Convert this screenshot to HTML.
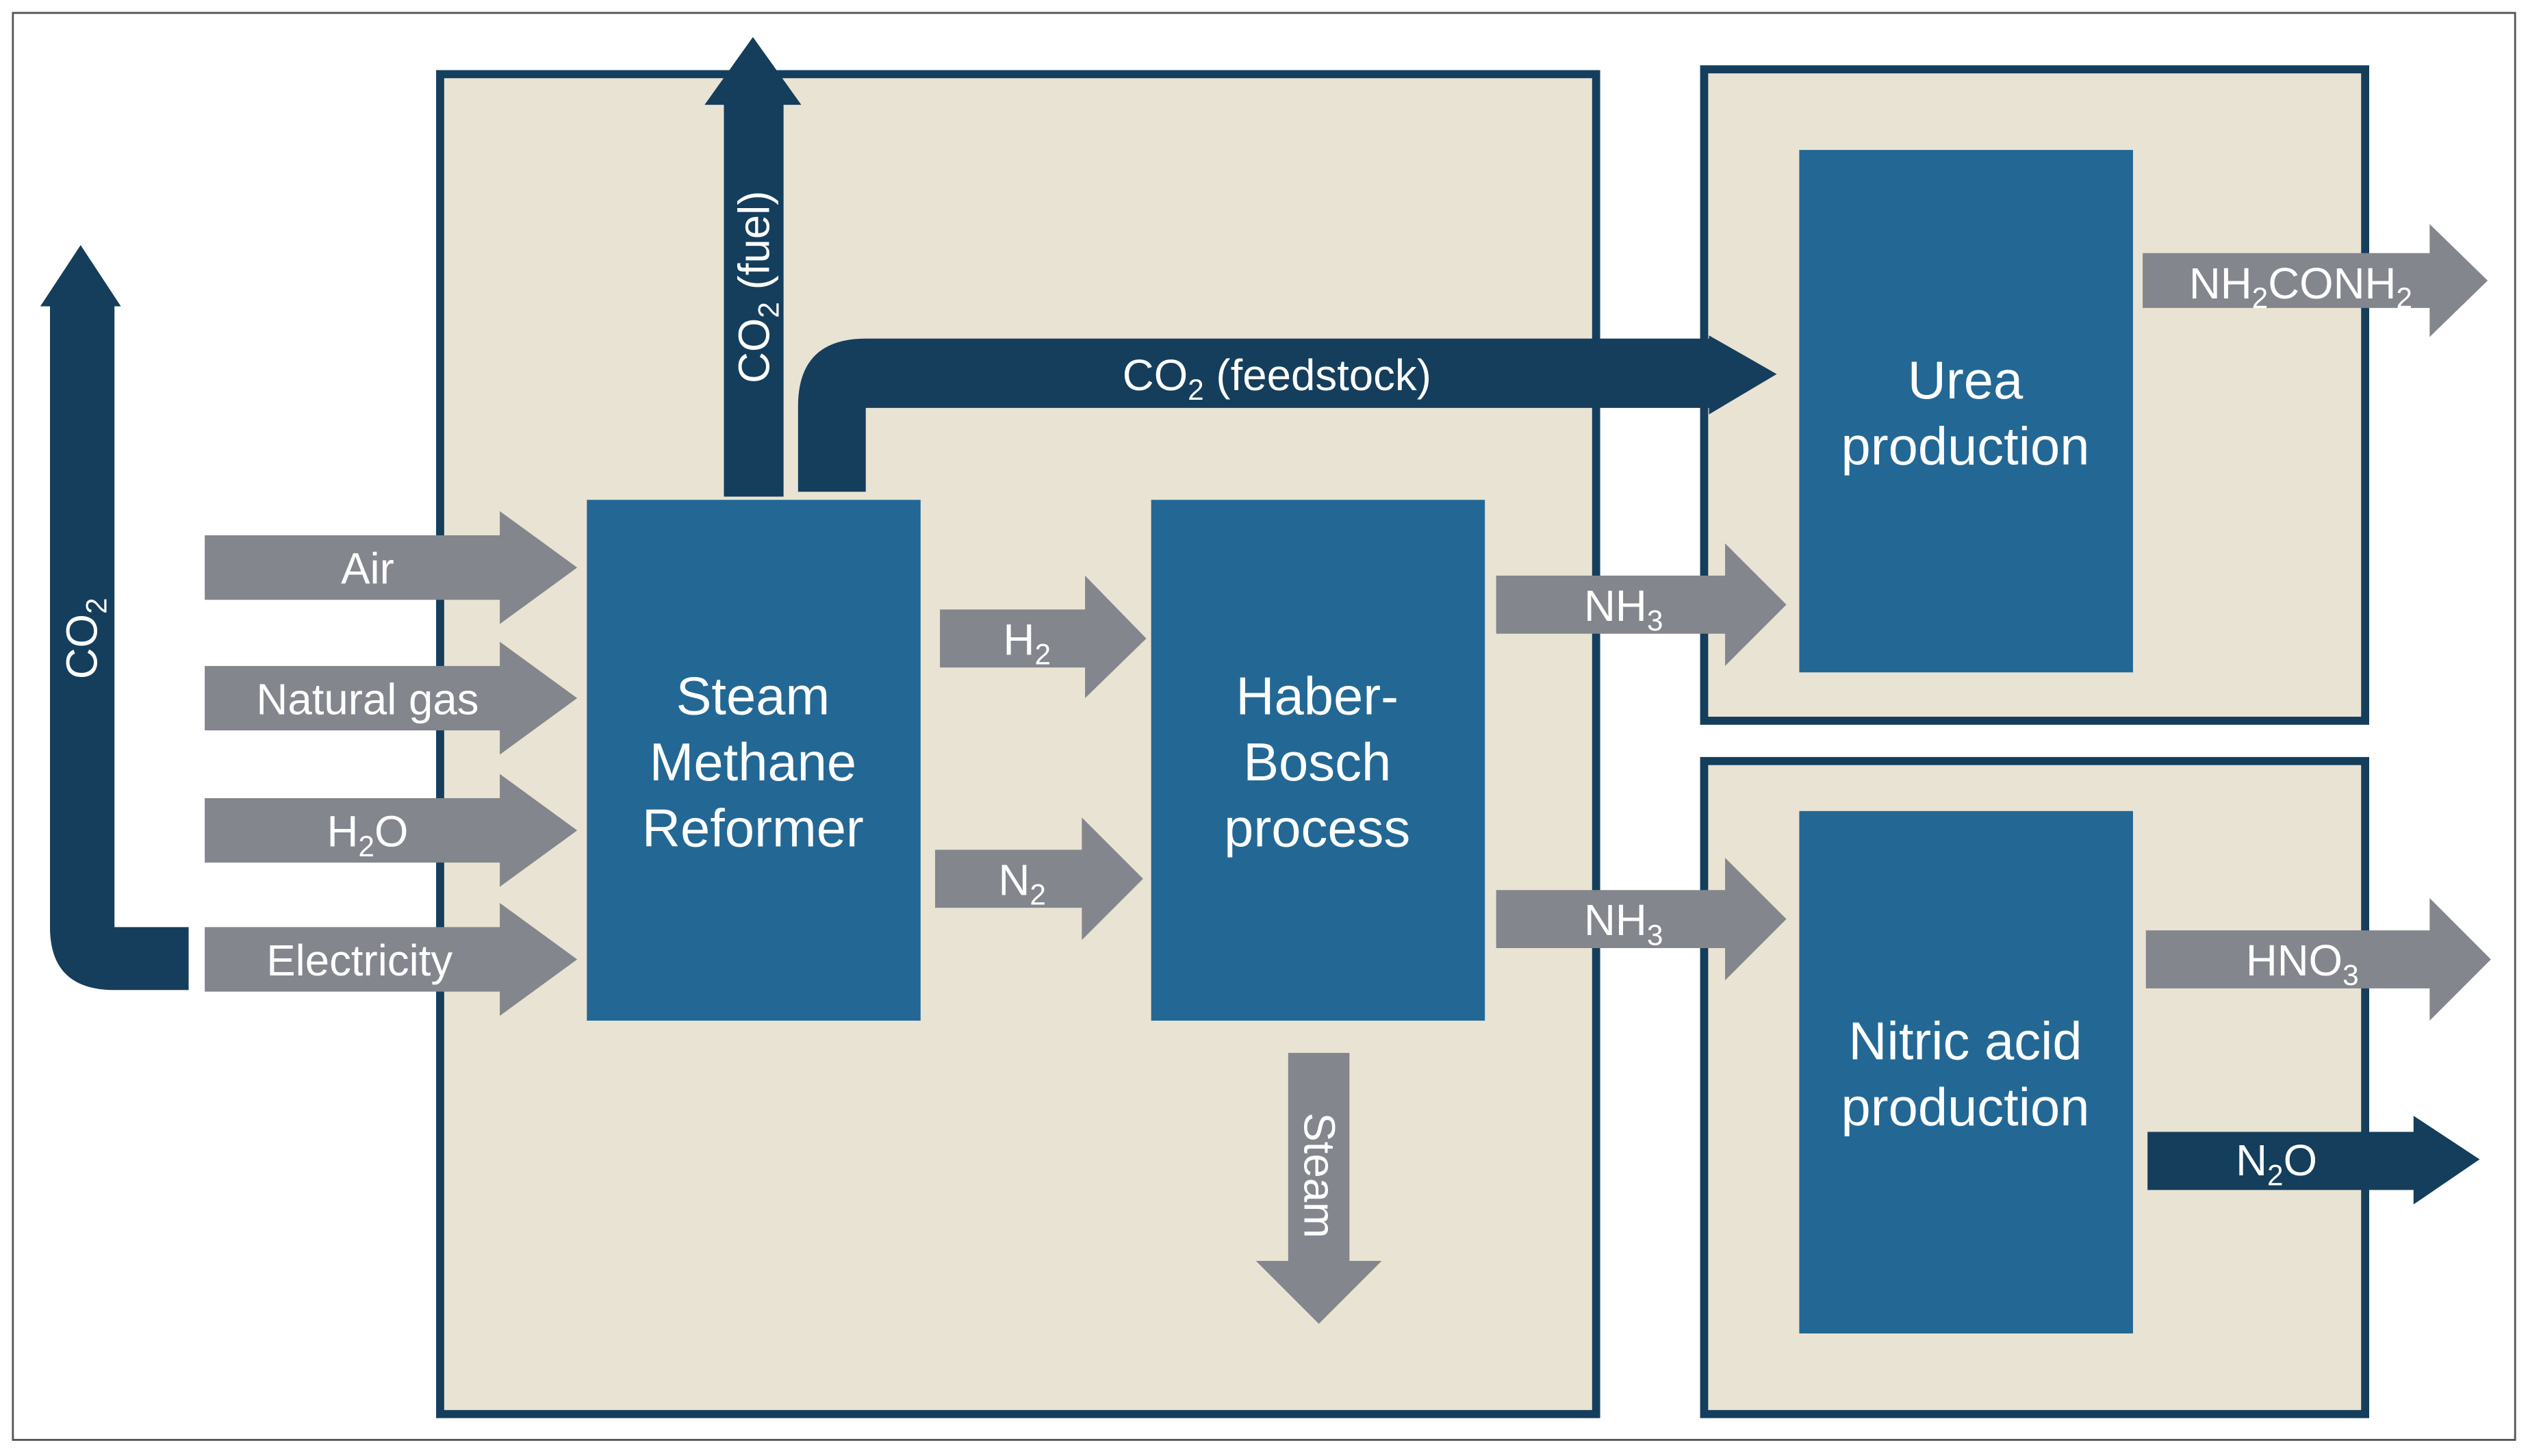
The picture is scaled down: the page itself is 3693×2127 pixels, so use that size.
<!DOCTYPE html>
<html><head><meta charset="utf-8"><style>
html,body{margin:0;padding:0;background:#fff;}
svg{display:block;}
text{font-family:"Liberation Sans",Arial,sans-serif;fill:#fff;}
</style></head><body>
<svg width="3693" height="2127" viewBox="0 0 1568 903" preserveAspectRatio="none" xmlns="http://www.w3.org/2000/svg">
<rect x="0" y="0" width="1568" height="903" fill="#fff"/>
<rect x="8" y="8" width="1552" height="885" fill="none" stroke="#555" stroke-width="1.2"/>
<rect x="273" y="46" width="717" height="831" fill="#e9e3d3" stroke="#143e5c" stroke-width="5"/>
<rect x="1057" y="43" width="410" height="404" fill="#e9e3d3" stroke="#143e5c" stroke-width="5"/>
<rect x="1057" y="472" width="410" height="405" fill="#e9e3d3" stroke="#143e5c" stroke-width="5"/>
<rect x="364" y="310" width="207" height="323" fill="#236894"/>
<rect x="714" y="310" width="207" height="323" fill="#236894"/>
<rect x="1116" y="93" width="207" height="324" fill="#236894"/>
<rect x="1116" y="503" width="207" height="324" fill="#236894"/>
<polygon points="449,308 486,308 486,65 497,65 467,23 437,65 449,65" fill="#143e5c"/>
<path d="M117,575 L117,614 L71,614 Q31,614 31,575 L31,190 L25,190 L50,152 L75,190 L71,190 L71,575 Z" fill="#143e5c"/>
<path d="M495,305 L537,305 L537,253 L1060,253 L1060,257 L1102,232 L1060,208 L1060,210 L537,210 Q495,210 495,252 Z" fill="#143e5c"/>
<polygon points="1332,702 1497,702 1497,692 1538,719 1497,747 1497,738 1332,738" fill="#143e5c"/>
<g fill="#83868c">
<polygon points="127,332 310,332 310,317 358,352 310,387 310,372 127,372"/>
<polygon points="127,413 310,413 310,398 358,433 310,468 310,453 127,453"/>
<polygon points="127,495 310,495 310,480 358,515 310,550 310,535 127,535"/>
<polygon points="127,575 310,575 310,560 358,595 310,630 310,615 127,615"/>
<polygon points="583,378 673,378 673,357 711,396 673,433 673,414 583,414"/>
<polygon points="580,527 671,527 671,507 709,545 671,583 671,563 580,563"/>
<polygon points="928,357 1070,357 1070,337 1108,375 1070,413 1070,393 928,393"/>
<polygon points="928,552 1070,552 1070,532 1108,570 1070,608 1070,588 928,588"/>
<polygon points="1329,157 1507,157 1507,139 1543,174 1507,209 1507,191 1329,191"/>
<polygon points="1331,577 1507,577 1507,557 1545,595 1507,633 1507,613 1331,613"/>
<polygon points="799,653 837,653 837,782 857,782 818,821 779,782 799,782"/>
</g>
<g font-size="27" text-anchor="middle">
<text x="228" y="362">Air</text>
<text x="228" y="443">Natural gas</text>
<text x="228" y="525">H<tspan font-size="18" dy="6">2</tspan><tspan dy="-6">O</tspan></text>
<text x="223" y="605">Electricity</text>
<text x="637" y="406">H<tspan font-size="18" dy="6">2</tspan></text>
<text x="634" y="555">N<tspan font-size="18" dy="6">2</tspan></text>
<text x="1007" y="385">NH<tspan font-size="18" dy="6">3</tspan></text>
<text x="1007" y="580">NH<tspan font-size="18" dy="6">3</tspan></text>
<text x="1427" y="185">NH<tspan font-size="18" dy="6">2</tspan><tspan dy="-6">CONH</tspan><tspan font-size="18" dy="6">2</tspan></text>
<text x="1428" y="605">HNO<tspan font-size="18" dy="6">3</tspan></text>
<text x="1412" y="729">N<tspan font-size="18" dy="6">2</tspan><tspan dy="-6">O</tspan></text>
<text x="792" y="242">CO<tspan font-size="18" dy="6">2</tspan><tspan dy="-6"> (feedstock)</tspan></text>
<text transform="translate(477,178) rotate(-90)">CO<tspan font-size="18" dy="6">2</tspan><tspan dy="-6"> (fuel)</tspan></text>
<text transform="translate(60,396) rotate(-90)">CO<tspan font-size="18" dy="6">2</tspan></text>
<text transform="translate(809,729) rotate(90)">Steam</text>
</g>
<g font-size="33" text-anchor="middle">
<text x="467" y="443">Steam</text>
<text x="467" y="484">Methane</text>
<text x="467" y="525">Reformer</text>
<text x="817" y="443">Haber-</text>
<text x="817" y="484">Bosch</text>
<text x="817" y="525">process</text>
<text x="1219" y="247">Urea</text>
<text x="1219" y="288">production</text>
<text x="1219" y="657">Nitric acid</text>
<text x="1219" y="698">production</text>
</g>
</svg>
</body></html>
